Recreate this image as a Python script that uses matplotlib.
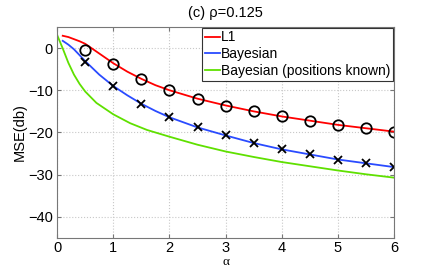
import matplotlib
matplotlib.use('Agg')
import matplotlib.pyplot as plt

plt.rcParams['font.family'] = ['Liberation Sans', 'DejaVu Sans']

# curves (alpha, MSE in dB)
l1_alpha = [0.1, 0.2, 0.3, 0.4, 0.5, 0.75, 1.0, 1.25, 1.5, 1.75, 2.0, 2.5, 3.0, 3.5, 4.0, 4.5, 5.0, 5.5, 6.0]
l1_mse = [2.9, 2.6, 2.1, 1.6, 1.0, -1.3, -3.6, -5.6, -7.3, -8.8, -10.0, -12.0, -13.6, -15.0, -16.2, -17.2, -18.2, -19.0, -19.8]

bayes_alpha = [0.1, 0.2, 0.3, 0.4, 0.5, 0.75, 1.0, 1.25, 1.5, 1.75, 2.0, 2.5, 3.0, 3.5, 4.0, 4.5, 5.0, 5.5, 6.0]
bayes_mse = [1.7, 0.8, -0.3, -1.7, -3.1, -6.3, -9.0, -11.2, -13.2, -14.9, -16.4, -18.8, -20.7, -22.5, -24.0, -25.2, -26.4, -27.3, -28.2]

known_alpha = [0.0, 0.05, 0.1, 0.2, 0.3, 0.4, 0.5, 0.7, 1.0, 1.3, 1.6, 2.0, 2.5, 3.0, 3.5, 4.0, 4.5, 5.0, 5.5, 6.0]
known_mse = [3.1, 1.5, -0.1, -3.5, -6.3, -8.5, -10.3, -13.0, -15.7, -17.8, -19.4, -21.0, -22.9, -24.5, -25.8, -27.0, -28.0, -29.0, -29.9, -30.7]

# simulation points
sim_alpha = [0.5, 1.0, 1.5, 2.0, 2.5, 3.0, 3.5, 4.0, 4.5, 5.0, 5.5, 6.0]
sim_l1 = [-0.5, -3.9, -7.3, -10.0, -12.1, -13.7, -15.0, -16.2, -17.2, -18.3, -19.0, -19.9]
sim_bayes = [-3.2, -9.0, -13.2, -16.4, -18.8, -20.7, -22.6, -24.0, -25.1, -26.4, -27.3, -28.2]

fig = plt.figure(figsize=(4.36, 2.69), dpi=100)
ax = fig.add_axes([0.131, 0.115, 0.773, 0.785])

ax.plot(l1_alpha, l1_mse, color='#ff0000', lw=1.3, label='L1')
ax.plot(bayes_alpha, bayes_mse, color='#2a4bff', lw=1.3, label='Bayesian')
ax.plot(known_alpha, known_mse, color='#5fe000', lw=1.3, label='Bayesian (positions known)')
ax.plot(sim_alpha, sim_l1, 'o', mfc='none', mec='black', ms=7.5, mew=1.3)
ax.plot(sim_alpha, sim_bayes, 'x', color='black', ms=6, mew=1.3)

ax.set_xlim(0, 6)
ax.set_ylim(-45, 5)
ax.set_xticks(range(0, 7))
ax.set_yticks([-40, -30, -20, -10, 0])
ax.grid(True, linestyle=':', color='#c8c8c8', lw=0.8)
ax.tick_params(direction='in', top=True, right=True, length=3, color='#777777',
               labelsize=10.5, pad=3)
ax.tick_params(axis='x', pad=2)
for s in ax.spines.values():
    s.set_color('#777777')
    s.set_linewidth(0.8)

ax.set_xlabel('α', fontsize=9.5, family=['Liberation Serif', 'DejaVu Serif'], va='baseline')
ax.xaxis.set_label_coords(0.5, -0.128)
ax.set_ylabel('MSE(db)', fontsize=10.5)
ax.yaxis.set_label_coords(-0.09, 0.5)
ax.set_title('(c) ρ=0.125', fontsize=10.5, pad=7)

leg = ax.legend(loc='upper right', fontsize=10, handlelength=1.1, handletextpad=0.1,
                borderpad=0.2, labelspacing=0.2, borderaxespad=0.05, fancybox=False, framealpha=1)
leg.get_frame().set_edgecolor('#333333')
leg.get_frame().set_linewidth(0.8)

fig.savefig('out.png', dpi=100)
